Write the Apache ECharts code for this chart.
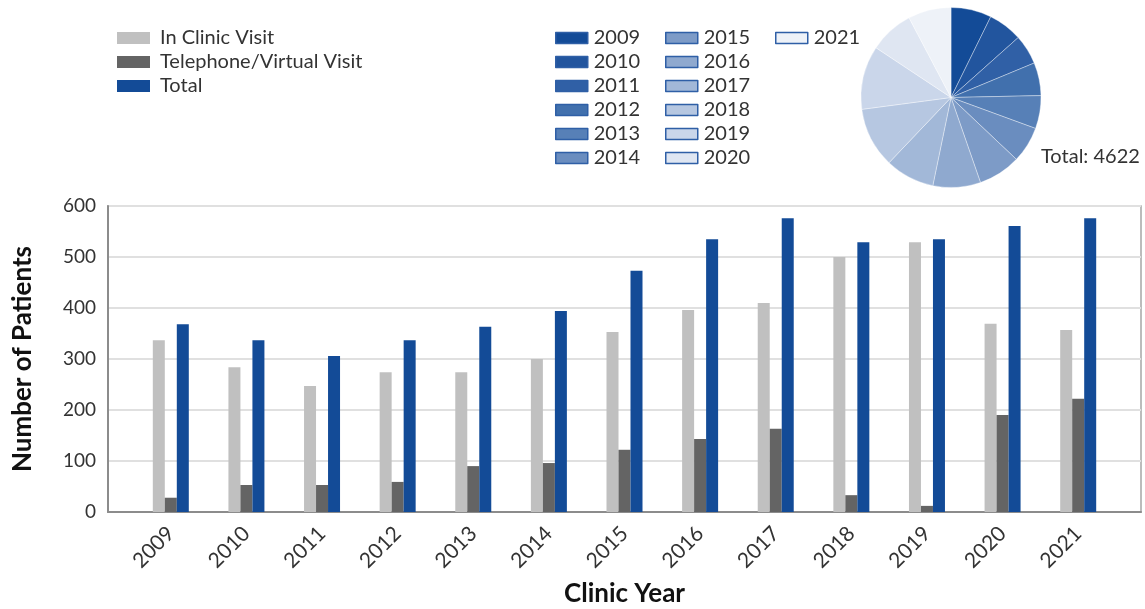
<!DOCTYPE html>
<html>
<head>
<meta charset="utf-8">
<script src="https://cdn.jsdelivr.net/npm/echarts@6/dist/echarts.min.js"></script>
<style>
  html, body { margin: 0; padding: 0; background: #fff; }
  #chart { width: 1145px; height: 609px; }
</style>
</head>
<body>
<div id="chart"></div>
<script>
// data
var years = ['2009','2010','2011','2012','2013','2014','2015','2016','2017','2018','2019','2020','2021'];
var inClinic = [337, 284, 247, 274, 274, 300, 353, 396, 410, 500, 529, 369, 357];
var telephone = [28, 53, 53, 59, 90, 96, 122, 143, 163, 33, 12, 190, 222];
var total = [368, 337, 306, 337, 363, 394, 473, 535, 576, 529, 535, 561, 576];
var yTicks = [0, 100, 200, 300, 400, 500, 600];
var pieColors = ['#134b97','#22559e','#3060a6','#4170ad','#5780b7','#6a8dbf','#7d9bc7','#8fa9cf','#a2b8d8','#b6c7e1','#cad6ea','#dfe6f2','#eef2f8'];
var pieTotalText = 'Total: 4622';

var chart = echarts.init(document.getElementById('chart'));
var font = 'Lato';

var pieData = years.map(function (y, i) {
    return { name: y, value: inClinic[i], itemStyle: { color: pieColors[i] } };
});

var pieLegendBase = {
    orient: 'vertical',
    top: 28,
    padding: 0,
    itemWidth: 32,
    itemHeight: 11,
    itemGap: 4,
    icon: 'rect',
    selectedMode: false,
    textStyle: { fontFamily: font, fontSize: 20, color: '#333', padding: [0, 0, 0, 1] },
    itemStyle: { borderColor: '#2f5fa6', borderWidth: 1.5 }
};

var option = {
    animation: false,
    textStyle: { fontFamily: font },
    legend: [
        {
            data: ['In Clinic Visit', 'Telephone/Virtual Visit', 'Total'],
            orient: 'vertical',
            left: 117,
            top: 28,
            padding: 0,
            itemWidth: 33,
            itemHeight: 12,
            itemGap: 4,
            icon: 'rect',
            selectedMode: false,
            textStyle: { fontFamily: font, fontSize: 20, color: '#333', padding: [0, 0, 0, 5] }
        },
        Object.assign({ left: 555, data: years.slice(0, 6) }, pieLegendBase),
        Object.assign({ left: 665, data: years.slice(6, 12) }, pieLegendBase),
        Object.assign({ left: 775, data: years.slice(12) }, pieLegendBase)
    ],
    title: {
        text: pieTotalText,
        left: 1041,
        top: 147,
        padding: 0,
        textStyle: { fontFamily: font, fontSize: 20, fontWeight: 'normal', color: '#333' }
    },
    grid: [
        { left: 108, right: 4, top: 206, bottom: 97, show: true, borderColor: '#a6a6a6', borderWidth: 1.5, outerBoundsMode: 'none' },
        { left: 133, right: 29, top: 206, bottom: 97, outerBoundsMode: 'none' }
    ],
    xAxis: [
        {
            gridIndex: 0, type: 'value', min: 0, max: 1,
            axisLine: { show: true, lineStyle: { color: '#8c8c8c', width: 2 } },
            axisTick: { show: false }, axisLabel: { show: false }, splitLine: { show: false }
        },
        {
            gridIndex: 1, type: 'category', data: years,
            axisLine: { show: false }, axisTick: { show: false },
            axisLabel: { rotate: 45, margin: 18, fontFamily: font, fontSize: 21, color: '#333' },
            name: 'Clinic Year', nameLocation: 'middle', nameGap: 69,
            nameTextStyle: { fontFamily: font, fontSize: 26, fontWeight: 'bold', color: '#111' }
        }
    ],
    yAxis: [
        {
            gridIndex: 0, type: 'value', min: yTicks[0], max: yTicks[yTicks.length - 1], interval: 100,
            axisLine: { show: true, lineStyle: { color: '#8c8c8c', width: 2 } },
            axisTick: { show: false },
            axisLabel: { margin: 12, fontFamily: font, fontSize: 19, color: '#333' },
            splitLine: { lineStyle: { color: '#e0e0e0', width: 2 } },
            name: 'Number of Patients', nameLocation: 'middle', nameGap: 72,
            nameTextStyle: { fontFamily: font, fontSize: 26, fontWeight: 'bold', color: '#111' }
        },
        {
            gridIndex: 1, type: 'value', min: yTicks[0], max: yTicks[yTicks.length - 1], interval: 100,
            show: false, splitLine: { show: false }
        }
    ],
    series: [
        {
            name: 'In Clinic Visit', type: 'bar', xAxisIndex: 1, yAxisIndex: 1,
            data: inClinic, barWidth: 12, barGap: '0%',
            itemStyle: { color: '#c0c0c0' }
        },
        {
            name: 'Telephone/Virtual Visit', type: 'bar', xAxisIndex: 1, yAxisIndex: 1,
            data: telephone, barWidth: 12, barGap: '0%',
            itemStyle: { color: '#646464' }
        },
        {
            name: 'Total', type: 'bar', xAxisIndex: 1, yAxisIndex: 1,
            data: total, barWidth: 12, barGap: '0%',
            itemStyle: { color: '#134b97' }
        },
        {
            name: 'Years', type: 'pie',
            center: [951, 97.5], radius: 90,
            startAngle: 90, clockwise: true,
            label: { show: false }, labelLine: { show: false },
            silent: true,
            itemStyle: { borderColor: 'rgba(255,255,255,0.6)', borderWidth: 0.6 },
            data: pieData
        }
    ]
};

chart.setOption(option);
</script>
</body>
</html>
